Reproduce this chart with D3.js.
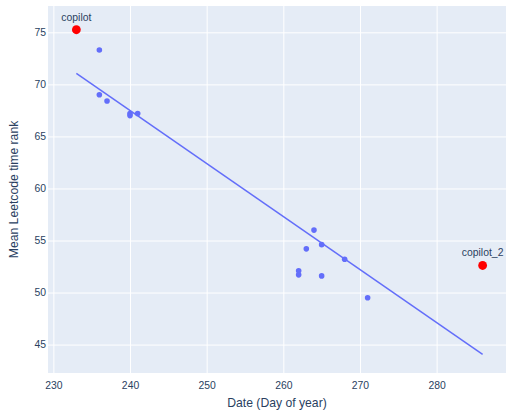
<!DOCTYPE html>
<html>
<head>
<meta charset="utf-8">
<script src="https://cdn.jsdelivr.net/npm/d3@7"></script>
<style>
body { margin: 0; background: #fff; }
svg text { font-family: "Liberation Sans", Arial, sans-serif; fill: #2a3f5f; }
</style>
</head>
<body>
<script>
// day of year vs mean rank
var days = [236, 236, 237, 240, 240, 241, 262, 262, 263, 264, 265, 265, 268, 271];
var ranks = [73.3, 69.0, 68.4, 67.2, 67.0, 67.2, 52.1, 51.7, 54.2, 56.0, 54.6, 51.6, 53.2, 49.5];

// highlighted runs
var hlNames = ["copilot", "copilot_2"];
var hlDays = [233, 286];
var hlRanks = [75.25, 52.6];

// fitted trend line end points
var trendDays = [233, 286];
var trendRanks = [71.05, 44.05];

var xTicks = [230, 240, 250, 260, 270, 280];
var yTicks = [45, 50, 55, 60, 65, 70, 75];

var W = 507, H = 414;
var margin = {top: 6, right: 1, bottom: 41, left: 48};
var width = W - margin.left - margin.right,
    height = H - margin.top - margin.bottom;

var svg = d3.select("body").append("svg")
    .attr("width", W)
    .attr("height", H);

var g = svg.append("g")
    .attr("transform", "translate(" + margin.left + "," + margin.top + ")");

var xScale = d3.scaleLinear().domain([229.3, 289.05]).range([0, width]);
var yScale = d3.scaleLinear().domain([42.27, 77.53]).range([height, 0]);

g.append("rect")
    .attr("width", width)
    .attr("height", height)
    .attr("fill", "#e5ecf6");

// grid
g.append("g")
    .call(d3.axisBottom(xScale).tickValues(xTicks).tickSize(height).tickFormat(""))
    .call(function(s) {
        s.select(".domain").remove();
        s.selectAll("line").attr("stroke", "#fff").attr("stroke-width", 1);
    });
g.append("g")
    .call(d3.axisLeft(yScale).tickValues(yTicks).tickSize(-width).tickFormat(""))
    .call(function(s) {
        s.select(".domain").remove();
        s.selectAll("line").attr("stroke", "#fff").attr("stroke-width", 1);
    });

// tick labels
g.append("g")
    .attr("transform", "translate(0," + height + ")")
    .call(d3.axisBottom(xScale).tickValues(xTicks).tickSize(0).tickPadding(9))
    .call(function(s) {
        s.select(".domain").remove();
        s.selectAll("text").attr("font-size", 10.4).attr("font-family", null).attr("fill", "#2a3f5f");
    });
g.append("g")
    .call(d3.axisLeft(yScale).tickValues(yTicks).tickSize(0).tickPadding(2))
    .call(function(s) {
        s.select(".domain").remove();
        s.selectAll("text").attr("font-size", 10.4).attr("font-family", null).attr("fill", "#2a3f5f");
    });

// trend line
var line = d3.line()
    .x(function(d) { return xScale(d[0]); })
    .y(function(d) { return yScale(d[1]); });
g.append("path")
    .datum(d3.zip(trendDays, trendRanks))
    .attr("d", line)
    .attr("fill", "none")
    .attr("stroke", "#636efa")
    .attr("stroke-width", 1.5);

// scatter
g.selectAll(".pt")
    .data(d3.zip(days, ranks))
    .enter()
    .append("circle")
    .attr("class", "pt")
    .attr("cx", function(d) { return xScale(d[0]); })
    .attr("cy", function(d) { return yScale(d[1]); })
    .attr("r", 2.8)
    .attr("fill", "#636efa");

var hl = d3.zip(hlNames, hlDays, hlRanks);
g.selectAll(".hl")
    .data(hl)
    .enter()
    .append("circle")
    .attr("class", "hl")
    .attr("cx", function(d) { return xScale(d[1]); })
    .attr("cy", function(d) { return yScale(d[2]); })
    .attr("r", 4.4)
    .attr("fill", "#ff0000");
g.selectAll(".hlLabel")
    .data(hl)
    .enter()
    .append("text")
    .attr("class", "hlLabel")
    .attr("x", function(d) { return xScale(d[1]); })
    .attr("y", function(d) { return yScale(d[2]) - 9; })
    .attr("text-anchor", "middle")
    .attr("font-size", 10.4)
    .text(function(d) { return d[0]; });

// axis titles
svg.append("text")
    .attr("x", margin.left + width / 2)
    .attr("y", 407)
    .attr("text-anchor", "middle")
    .attr("font-size", 12.2)
    .text("Date (Day of year)");
svg.append("text")
    .attr("transform", "translate(18," + (margin.top + height / 2) + ") rotate(-90)")
    .attr("text-anchor", "middle")
    .attr("font-size", 12.2)
    .text("Mean Leetcode time rank");
</script>
</body>
</html>
